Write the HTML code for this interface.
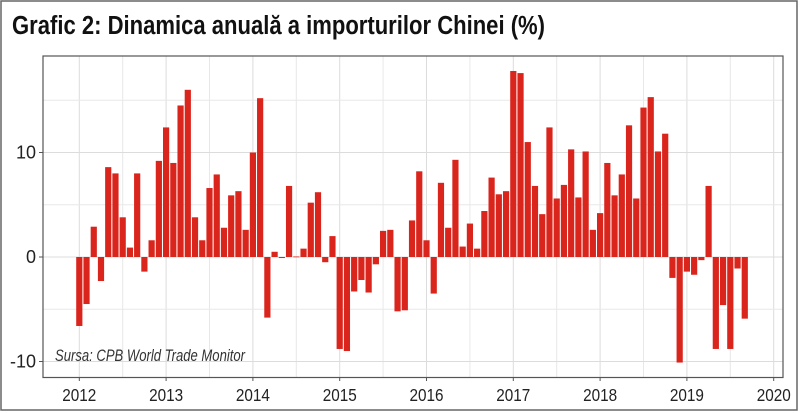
<!DOCTYPE html>
<html><head><meta charset="utf-8"><style>
html,body{margin:0;padding:0;background:#fff;}
svg{display:block}
text{font-family:"Liberation Sans",sans-serif;}
</style></head><body>
<svg id="s" width="800" height="413" viewBox="0 0 800 413" xmlns="http://www.w3.org/2000/svg">
<rect x="1" y="1" width="796" height="409" fill="#fff" stroke="#666" stroke-width="1.5"/>
<text x="12" y="34" font-size="26" font-weight="bold" fill="#111" transform="translate(12 0) scale(0.82 1) translate(-12 0)" textLength="650" lengthAdjust="spacingAndGlyphs">Grafic 2: Dinamica anuală a importurilor Chinei (%)</text>
<g id="grid"></g>
<g id="bars"></g>
<rect x="43" y="56" width="740" height="321.5" fill="none" stroke="#555" stroke-width="1.2"/>
<text x="55" y="361" font-size="17" font-style="italic" fill="#333" textLength="190" lengthAdjust="spacingAndGlyphs">Sursa: CPB World Trade Monitor</text>
<g id="lab" font-size="18" fill="#222"></g>
</svg>
<script>
var v=[-6.6,-4.5,2.9,-2.3,8.6,8.0,3.8,0.9,8.0,-1.4,1.6,9.2,
12.4,9.0,14.5,16.0,3.8,1.6,6.6,7.9,2.8,5.9,6.3,2.6,
10.0,15.2,-5.8,0.5,-0.1,6.8,0.05,0.8,5.2,6.2,-0.5,2.0,
-8.8,-9.0,-3.3,-2.2,-3.4,-0.7,2.5,2.6,-5.2,-5.1,3.5,8.2,
1.6,-3.5,7.1,2.8,9.3,1.0,3.2,0.8,4.4,7.6,6.0,6.3,
17.8,17.6,11.0,6.8,4.1,12.4,5.6,6.9,10.3,5.7,10.1,2.6,
4.2,9.0,5.9,7.9,12.6,5.6,14.3,15.3,10.1,11.8,-2.0,-10.1,
-1.4,-1.7,-0.3,6.8,-8.8,-4.6,-8.8,-1.1,-5.9];
var NS="http://www.w3.org/2000/svg";
function el(t,a,p){var e=document.createElementNS(NS,t);for(var k in a)e.setAttribute(k,a[k]);document.getElementById(p).appendChild(e);return e;}
var x0=79.3,yr=86.8,m=yr/12,y0=257,sc=10.45;
for(var i=0;i<=16;i++){var x=x0+i*yr/2;if(x>782)break;el('line',{x1:x,x2:x,y1:56,y2:377,stroke:i%2?'#e8e8e8':'#dcdcdc','stroke-width':1},'grid');}
[-10,-5,0,5,10,15].forEach(function(t){var y=y0-t*sc;el('line',{x1:43,x2:783,y1:y,y2:y,stroke:t%10?'#e8e8e8':'#dcdcdc','stroke-width':1},'grid');});
v.forEach(function(d,i){var x=x0+i*m-3.1;var y=d>=0?y0-d*sc:y0;var h=Math.max(Math.abs(d)*sc,0.8);el('rect',{x:x,y:y,width:6.2,height:h,fill:'#da251d'},'bars');});
[[10,'10'],[0,'0'],[-10,'-10']].forEach(function(p){var y=y0-p[0]*sc;var t=el('text',{x:36,y:y+6,'text-anchor':'end'},'lab');t.textContent=p[1];el('line',{x1:39,x2:43,y1:y,y2:y,stroke:'#555'},'lab');});
for(var k=0;k<9;k++){var x=x0+k*yr;var t=el('text',{x:x,y:401,'text-anchor':'middle',transform:'translate('+x+' 0) scale(0.85 1) translate('+(-x)+' 0)'},'lab');t.textContent=2012+k;el('line',{x1:x,x2:x,y1:377,y2:381,stroke:'#555'},'lab');}
</script>
</body></html>
